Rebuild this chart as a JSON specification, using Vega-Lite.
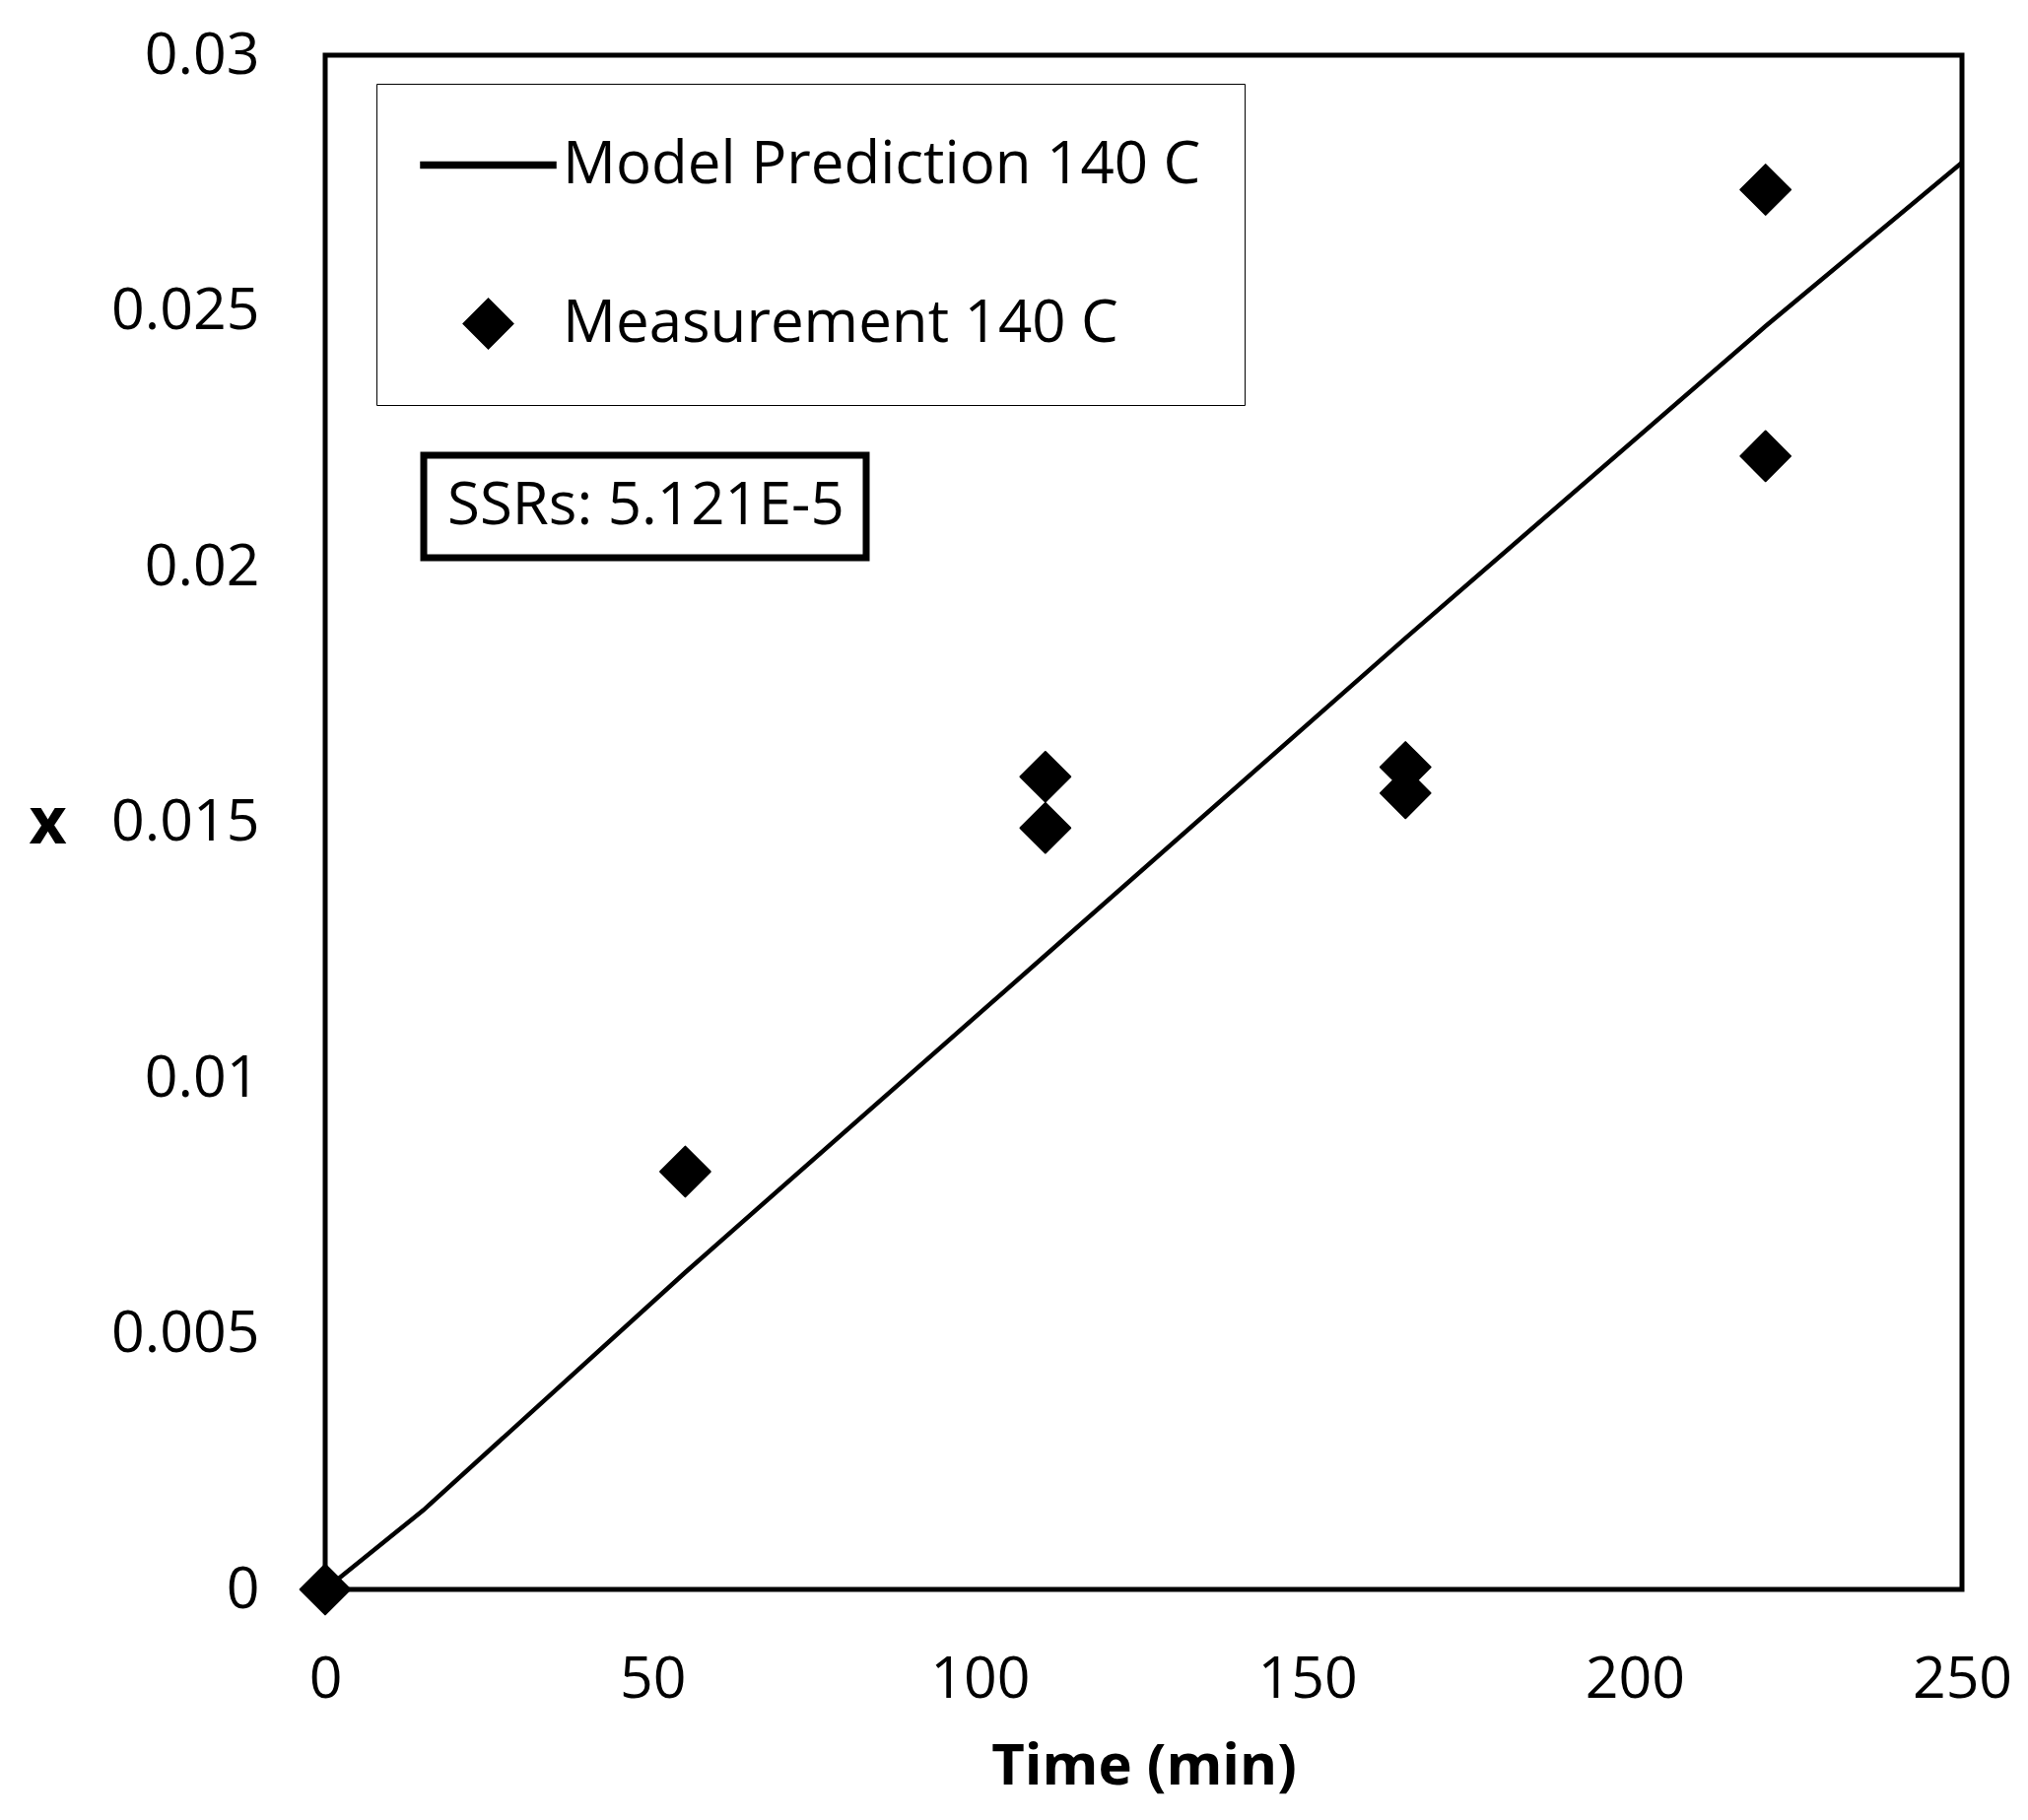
{
  "$schema": "https://vega.github.io/schema/vega-lite/v6.json",
  "width": 1661,
  "height": 1557,
  "autosize": {"type": "none"},
  "padding": {"left": 330, "top": 56, "right": 67, "bottom": 234},
  "background": "white",
  "data": {
    "values": [
      {"series": "Model Prediction 140 C", "time": 0, "x": 0},
      {"series": "Model Prediction 140 C", "time": 15, "x": 0.00155},
      {"series": "Model Prediction 140 C", "time": 55, "x": 0.0062},
      {"series": "Model Prediction 140 C", "time": 110, "x": 0.0124},
      {"series": "Model Prediction 140 C", "time": 165, "x": 0.0186},
      {"series": "Model Prediction 140 C", "time": 220, "x": 0.0247},
      {"series": "Model Prediction 140 C", "time": 250, "x": 0.0279},
      {"series": "Measurement 140 C", "time": 0, "x": 0},
      {"series": "Measurement 140 C", "time": 55, "x": 0.00817},
      {"series": "Measurement 140 C", "time": 110, "x": 0.01589},
      {"series": "Measurement 140 C", "time": 110, "x": 0.01489},
      {"series": "Measurement 140 C", "time": 165, "x": 0.01608},
      {"series": "Measurement 140 C", "time": 165, "x": 0.01557},
      {"series": "Measurement 140 C", "time": 220, "x": 0.02737},
      {"series": "Measurement 140 C", "time": 220, "x": 0.02216}
    ]
  },
  "encoding": {
    "x": {
      "field": "time",
      "type": "quantitative",
      "title": "Time (min)",
      "scale": {"domain": [0, 250], "nice": false},
      "axis": {"values": [0, 50, 100, 150, 200, 250], "format": "d", "labelPadding": 62, "titlePadding": 30}
    },
    "y": {
      "field": "x",
      "type": "quantitative",
      "title": "x",
      "scale": {"domain": [0, 0.03], "nice": false},
      "axis": {
        "values": [0, 0.005, 0.01, 0.015, 0.02, 0.025, 0.03],
        "format": "~g",
        "labelPadding": 67,
        "titleFontSize": 66,
        "titleAngle": 0,
        "titleAlign": "center",
        "titleBaseline": "middle",
        "titleX": -282,
        "titleY": 779
      }
    }
  },
  "layer": [
    {
      "transform": [{"filter": "datum.series === 'Model Prediction 140 C'"}],
      "mark": {"type": "line", "strokeWidth": 4.5},
      "encoding": {
        "color": {
          "datum": "SSRs: 5.121E-5",
          "scale": {"range": ["black"]},
          "legend": {
            "title": null,
            "orient": "none",
            "legendX": 100,
            "legendY": 406,
            "padding": 22,
            "strokeColor": "black",
            "fillColor": "white",
            "symbolSize": 0,
            "symbolOpacity": 0,
            "symbolStrokeWidth": 0,
            "symbolOffset": 0,
            "labelOffset": -58,
            "labelLimit": 2000,
            "labelFont": "Open Sans",
            "labelFontSize": 60,
            "labelColor": "black",
            "encode": {"legend": {"update": {"strokeWidth": {"value": 7}}}}
          }
        }
      }
    },
    {
      "transform": [{"filter": "datum.series === 'Measurement 140 C'"}],
      "mark": {"type": "point", "filled": true, "fill": "black", "stroke": "black", "strokeWidth": 2, "strokeJoin": "round", "size": 18769, "opacity": 1},
      "encoding": {
        "shape": {
          "field": "series",
          "type": "nominal",
          "scale": {
            "domain": ["Model Prediction 140 C", "Measurement 140 C"],
            "range": ["M-1,-0.045H1V0.045H-1Z", "M0,-0.37L0.37,0L0,0.37L-0.37,0Z"]
          },
          "legend": {
            "title": null,
            "orient": "none",
            "legendX": 52,
            "legendY": 29,
            "padding": 44,
            "strokeColor": "black",
            "fillColor": "white",
            "symbolSize": 18769,
            "symbolFillColor": "black",
            "symbolOpacity": 1,
            "labelOffset": 6,
            "rowPadding": 84,
            "clipHeight": 77,
            "labelLimit": 2000,
            "labelFont": "Open Sans",
            "labelFontSize": 60,
            "labelColor": "black",
            "encode": {"legend": {"update": {"strokeWidth": {"value": 3}}}}
          }
        }
      }
    }
  ],
  "config": {
    "view": {"stroke": "black", "strokeWidth": 5},
    "axis": {
      "grid": false,
      "ticks": false,
      "tickSize": 0,
      "domain": false,
      "labelFlush": false,
      "labelOverlap": false,
      "labelFont": "Open Sans",
      "labelFontSize": 59,
      "labelColor": "black",
      "titleFont": "Open Sans",
      "titleFontSize": 58,
      "titleFontWeight": "bold",
      "titleColor": "black"
    }
  }
}
